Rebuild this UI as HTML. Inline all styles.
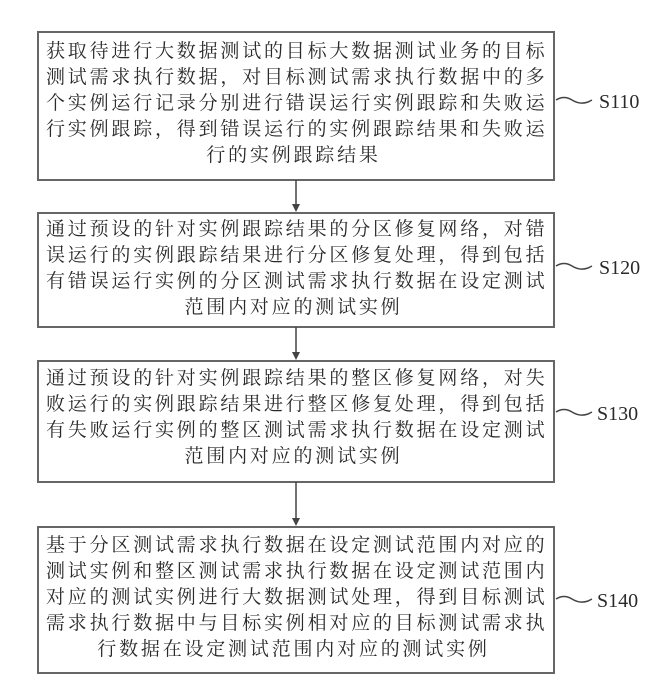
<!DOCTYPE html>
<html><head><meta charset="utf-8"><style>
body{margin:0;width:650px;height:688px;background:#fff;position:relative;overflow:hidden;font-family:"Liberation Serif","Noto Serif CJK SC",serif;color:#2a2a2a}
.b{position:absolute;left:37px;width:514px;border:2px solid #666;box-sizing:content-box}
.t{position:absolute;left:46px;width:505px;font-size:19px;letter-spacing:2.8px;line-height:26px;white-space:nowrap}
.t div{text-align:left}
.t div.c{text-align:center;padding-right:10px}
.l{position:absolute;font-size:20px;line-height:20px}
</style></head><body>
<div class="b" style="top:31px;height:146px"></div>
<div class="b" style="top:212px;height:112px"></div>
<div class="b" style="top:360px;height:119px"></div>
<div class="b" style="top:526px;height:144px"></div>
<div class="t" style="top:39px"><div>获取待进行大数据测试的目标大数据测试业务的目标</div><div>测试需求执行数据，对目标测试需求执行数据中的多</div><div>个实例运行记录分别进行错误运行实例跟踪和失败运</div><div>行实例跟踪，得到错误运行的实例跟踪结果和失败运</div><div class="c">行的实例跟踪结果</div></div>
<div class="t" style="top:217px"><div>通过预设的针对实例跟踪结果的分区修复网络，对错</div><div>误运行的实例跟踪结果进行分区修复处理，得到包括</div><div>有错误运行实例的分区测试需求执行数据在设定测试</div><div class="c">范围内对应的测试实例</div></div>
<div class="t" style="top:366px"><div>通过预设的针对实例跟踪结果的整区修复网络，对失</div><div>败运行的实例跟踪结果进行整区修复处理，得到包括</div><div>有失败运行实例的整区测试需求执行数据在设定测试</div><div class="c">范围内对应的测试实例</div></div>
<div class="t" style="top:533px"><div>基于分区测试需求执行数据在设定测试范围内对应的</div><div>测试实例和整区测试需求执行数据在设定测试范围内</div><div>对应的测试实例进行大数据测试处理，得到目标测试</div><div>需求执行数据中与目标实例相对应的目标测试需求执</div><div class="c">行数据在设定测试范围内对应的测试实例</div></div>
<svg width="650" height="688" style="position:absolute;left:0;top:0">
<g stroke="#444" stroke-width="1.5" fill="none">
<line x1="296" y1="180" x2="296" y2="206"/>
<line x1="296" y1="327" x2="296" y2="354"/>
<line x1="296" y1="482" x2="296" y2="520"/>
<path d="M556 100 q8 -5 16 0 t16 2 l4 -2"/>
<path d="M556 266 q8 -5 16 0 t16 2 l4 -2"/>
<path d="M556 412 q8 -5 16 0 t16 2 l4 -2"/>
<path d="M556 599 q8 -5 16 0 t16 2 l4 -2"/>
</g>
<g fill="#444">
<path d="M292 204 L300 204 L296 212Z"/>
<path d="M292 352 L300 352 L296 360Z"/>
<path d="M292 518 L300 518 L296 526Z"/>
</g>
</svg>
<div class="l" style="left:599px;top:92px">S110</div>
<div class="l" style="left:599px;top:258px">S120</div>
<div class="l" style="left:597px;top:404px">S130</div>
<div class="l" style="left:597px;top:591px">S140</div>
</body></html>
